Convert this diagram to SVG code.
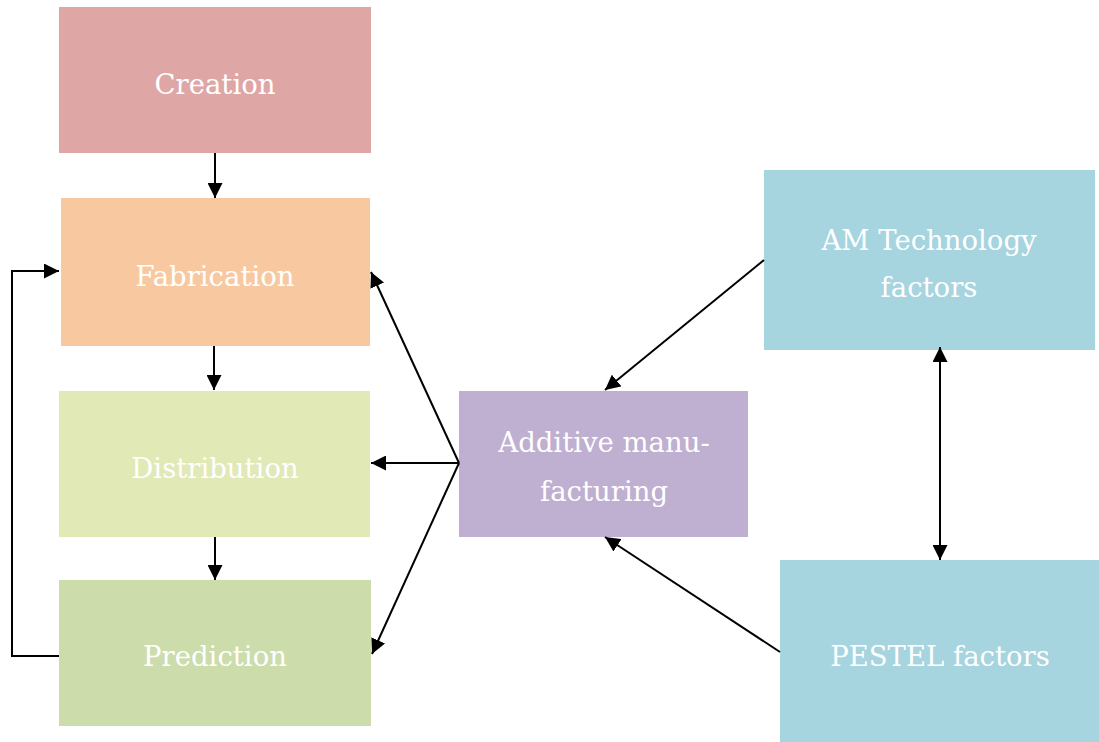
<svg xmlns="http://www.w3.org/2000/svg" width="1099" height="742" viewBox="0 0 1099 742">
<style>
.lbl{font-family:"DejaVu Serif","Liberation Serif",serif;font-size:27.5px;fill:#ffffff;text-anchor:middle}
.edge{stroke:#000;stroke-width:2;fill:none}
</style>
<defs>
<marker id="ah" viewBox="0 0 15 15" refX="15" refY="7.5" markerWidth="15" markerHeight="15" markerUnits="userSpaceOnUse" orient="auto-start-reverse">
<path d="M0,0 L15,7.5 L0,15 Z" fill="#000"/>
</marker>
</defs>
<rect width="1099" height="742" fill="#fff"/>
<g id="creation"><rect x="59" y="7" width="312" height="146" fill="#DFA6A6"/><text class="lbl" x="215" y="94">Creation</text></g>
<g id="fabrication"><rect x="61" y="198" width="309" height="148" fill="#F8C9A0"/><text class="lbl" x="215" y="286">Fabrication</text></g>
<g id="distribution"><rect x="59" y="391" width="311" height="146" fill="#E1E9B6"/><text class="lbl" x="215" y="478">Distribution</text></g>
<g id="prediction"><rect x="59" y="580" width="312" height="146" fill="#CDDCAB"/><text class="lbl" x="215" y="666">Prediction</text></g>
<g id="additive"><rect x="459" y="391" width="289" height="146" fill="#BFAFD0"/><text class="lbl" x="604" y="452">Additive manu-</text><text class="lbl" x="604" y="501">facturing</text></g>
<g id="amtech"><rect x="764" y="170" width="331" height="180" fill="#A6D4DF"/><text class="lbl" x="929" y="250">AM Technology</text><text class="lbl" x="929" y="297">factors</text></g>
<g id="pestel"><rect x="780" y="560" width="319" height="182" fill="#A6D4DF"/><text class="lbl" x="940" y="666">PESTEL factors</text></g>
<g id="connectors">
<line class="edge" x1="215" y1="153" x2="215" y2="198" marker-end="url(#ah)"/>
<line class="edge" x1="214" y1="346" x2="214" y2="390" marker-end="url(#ah)"/>
<line class="edge" x1="215" y1="537" x2="215" y2="580" marker-end="url(#ah)"/>
<polyline class="edge" points="59,656 12,656 12,271 59,271" marker-end="url(#ah)"/>
<line class="edge" x1="459" y1="463" x2="371" y2="272" marker-end="url(#ah)"/>
<line class="edge" x1="459" y1="463" x2="371" y2="463" marker-end="url(#ah)"/>
<line class="edge" x1="459" y1="463" x2="372" y2="654" marker-end="url(#ah)"/>
<line class="edge" x1="764" y1="260" x2="605" y2="390" marker-end="url(#ah)"/>
<line class="edge" x1="780" y1="652" x2="605" y2="537" marker-end="url(#ah)"/>
<line class="edge" x1="940" y1="347" x2="940" y2="560" marker-start="url(#ah)" marker-end="url(#ah)"/>
</g>
</svg>
